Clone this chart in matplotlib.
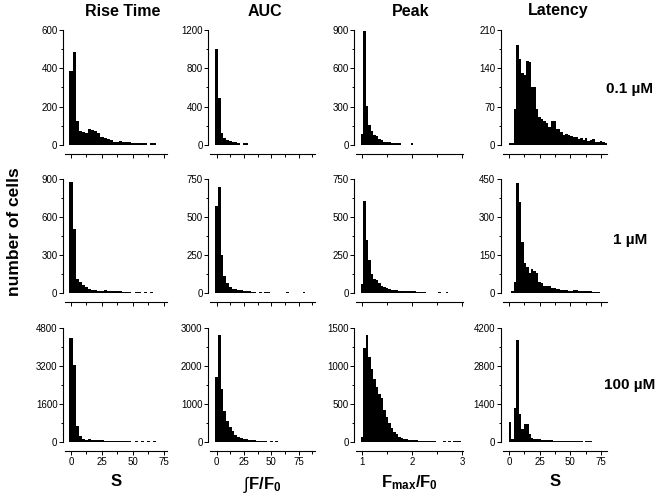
import numpy as np
import matplotlib
matplotlib.use("Agg")
import matplotlib.pyplot as plt
from matplotlib.ticker import MultipleLocator

plt.rcParams["font.family"] = ["Liberation Sans", "DejaVu Sans"]
plt.rcParams["mathtext.fontset"] = "custom"
plt.rcParams["mathtext.rm"] = "Liberation Sans"
plt.rcParams["mathtext.bf"] = "Liberation Sans:bold"


# 1. DATA (cell counts per bin)
measures = ["Rise Time", "AUC", "Peak", "Latency"]
doses = ["0.1 µM", "1 µM", "100 µM"]
xlabels = ["S", r"$\int\mathbf{F/F_0}$", r"$\mathbf{F_{max}/F_0}$", "S"]

bin_width = [2.5, 2.5, 0.05, 2.0]
bin_start = [-1.25, -1.25, 0.975, 0.0]

rise_01 = [386, 487, 124, 73, 68, 59, 80, 75, 73, 63, 42, 37, 28, 24, 16, 14,
           19, 9, 7, 7, 5, 5, 3, 3, 2, 0, 3, 3]
rise_1 = [871, 509, 115, 92, 66, 47, 37, 29, 24, 21, 18, 16, 13, 13, 10, 8,
          8, 5, 5, 5, 0, 6, 6, 0, 6, 0, 6]
rise_100 = [4355, 3232, 666, 250, 139, 97, 69, 55, 40, 30, 25, 20, 18, 15, 12,
            10, 10, 9, 8, 8, 0, 5, 0, 5, 0, 5, 0, 5]

auc_01 = [1007, 488, 118, 66, 49, 38, 31, 21, 10, 0, 3, 3]
auc_1 = [569, 696, 252, 116, 70, 44, 31, 26, 20, 13, 11, 9, 7, 5, 4, 0, 3, 0,
         3, 3, 0, 0, 0, 0, 0, 0, 3, 0, 0, 0, 0, 0, 3]
auc_100 = [1711, 2792, 1380, 800, 560, 390, 285, 190, 140, 100, 70, 50, 35,
           25, 18, 12, 8, 6, 4, 0, 5, 0, 5]

peak_01 = [81, 893, 304, 154, 107, 73, 68, 47, 37, 18, 16, 10, 8, 8, 5, 5,
           0, 0, 0, 0, 3]
peak_1 = [59, 602, 348, 219, 127, 94, 88, 66, 48, 39, 33, 26, 24, 22, 20, 18,
          15, 11, 9, 7, 6, 6, 4, 5, 4, 2, 0, 0, 0, 0, 0, 3, 0, 0, 3]
peak_100 = [70, 1230, 1400, 1110, 960, 830, 720, 630, 580, 420, 330, 250, 180,
            130, 100, 70, 50, 35, 25, 18, 12, 10, 8, 6, 5, 4, 3, 3, 2, 2,
            0, 0, 0, 5, 0, 5, 0, 5, 5, 5]

lat_01 = [2, 2, 66, 183, 157, 132, 128, 153, 151, 106, 106, 66, 50, 48, 44,
          40, 33, 44, 44, 28, 28, 23, 18, 20, 17, 16, 15, 14, 10, 12, 9, 13,
          7, 9, 11, 4, 5, 6, 5, 2]
lat_1 = [0, 4, 46, 432, 358, 202, 121, 102, 81, 96, 89, 79, 46, 39, 29, 29,
         29, 22, 21, 18, 16, 13, 12, 12, 9, 7, 8, 8, 5, 5, 5, 4, 4, 4, 3, 3, 3]
lat_100 = [720, 110, 1257, 3736, 1025, 464, 647, 647, 281, 134, 98, 73, 61,
           49, 40, 32, 26, 22, 18, 15, 13, 11, 10, 9, 8, 7, 6, 6, 5, 5, 0,
           8, 8, 8]

ymax = [[600, 900, 4800], [1200, 750, 3000], [900, 750, 1500], [210, 450, 4200]]

counts = [[rise_01, rise_1, rise_100],
          [auc_01, auc_1, auc_100],
          [peak_01, peak_1, peak_100],
          [lat_01, lat_1, lat_100]]


# 2. LAYOUT (pixels in a 661x497 figure)
W, H = 661, 497
col_left = [65, 210, 356, 502.7]
col_right = [166.7, 315.3, 462.7, 606.7]
row_zero = [144.7, 293.3, 442]
row_h = 114.5
xlims = [(-4.8, 77.2), (-6.1, 90.3), (0.88, 3.01), (-5.1, 79.7)]
x_major = [25, 25, 1, 25]
x_minor = [12.5, 12.5, 0.5, 12.5]

fig = plt.figure(figsize=(W / 100, H / 100), dpi=100)

for c in range(4):
    for r in range(3):
        ax = fig.add_axes([col_left[c] / W, 1 - row_zero[r] / H,
                           (col_right[c] - col_left[c]) / W, row_h / H])
        vals = np.array(counts[c][r], dtype=float)
        edges = bin_start[c] + bin_width[c] * np.arange(len(vals) + 1)
        ax.stairs(vals, edges, fill=True, color="black", linewidth=0)
        # tiny tail bins would vanish, draw them as short dashes
        small = (vals > 0) & (vals < ymax[c][r] * 0.02)
        ax.hlines(vals[small], edges[:-1][small], edges[1:][small],
                  color="black", linewidth=1.4, capstyle="butt")

        ax.set_xlim(*xlims[c])
        ax.set_ylim(0, ymax[c][r])
        ax.xaxis.set_major_locator(MultipleLocator(x_major[c]))
        ax.xaxis.set_minor_locator(MultipleLocator(x_minor[c]))
        ax.yaxis.set_major_locator(MultipleLocator(ymax[c][r] / 3))
        ax.yaxis.set_minor_locator(MultipleLocator(ymax[c][r] / 6))

        for s in ["top", "right"]:
            ax.spines[s].set_visible(False)
        ax.spines["left"].set_position(("outward", 1.4))
        ax.spines["bottom"].set_position(("outward", 6.5))
        for s in ["left", "bottom"]:
            ax.spines[s].set_linewidth(0.8)

        ax.tick_params(which="major", length=2.8, width=0.7, pad=1.2,
                       labelsize=7, colors="black")
        ax.tick_params(which="minor", length=1.8, width=0.7)
        if r < 2:
            ax.tick_params(labelbottom=False)
        else:
            ax.set_xlabel(xlabels[c], fontsize=12, fontweight="bold",
                          labelpad=5)

# 3. TEXT
title_x = [122.5, 264.7, 410.8, 557.8]
for c in range(4):
    fig.text(title_x[c] / W, 1 - 11 / H, measures[c], ha="center",
             va="center", fontsize=11.5, fontweight="bold")

dose_y = [89, 240, 385]
for r in range(3):
    fig.text(630 / W, 1 - dose_y[r] / H, doses[r], ha="center", va="center",
             fontsize=11, fontweight="bold")

fig.text(15 / W, 1 - 232 / H, "number of cells", rotation=90, ha="center",
         va="center", fontsize=12.5, fontweight="bold")

fig.savefig("out.png", dpi=100)
plt.close()
